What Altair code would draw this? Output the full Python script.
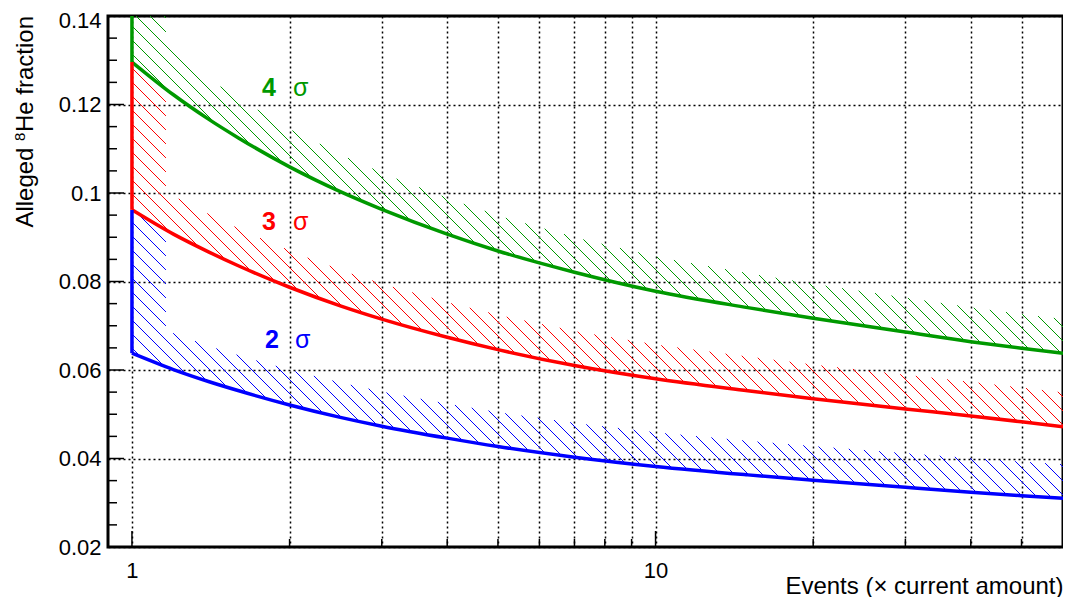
import numpy as np
import pandas as pd
import altair as alt

# ---------------- data ----------------
events = [1, 1.2, 1.4, 1.6, 2, 2.5, 3, 4, 5, 7, 10, 15, 20, 30, 40, 50, 60]
sigma2 = [0.0638, 0.0601, 0.0574, 0.0553, 0.0521, 0.0493, 0.0473, 0.0446, 0.0427,
          0.0403, 0.0382, 0.0363, 0.0351, 0.0335, 0.0324, 0.0316, 0.0310]
sigma3 = [0.0962, 0.0907, 0.0867, 0.0835, 0.0787, 0.0745, 0.0715, 0.0674, 0.0646,
          0.0610, 0.0580, 0.0553, 0.0535, 0.0512, 0.0496, 0.0483, 0.0472]
sigma4 = [0.1296, 0.1222, 0.1167, 0.1124, 0.1059, 0.1003, 0.0963, 0.0907, 0.0869,
          0.0821, 0.0778, 0.0741, 0.0717, 0.0686, 0.0664, 0.0649, 0.0638]
series_names = ["2σ", "3σ", "4σ"]
series_colors = ["#0000ff", "#ff0000", "#009900"]
# top of the vertical segment drawn at x = 1 for each curve
vertical_top = [0.0962, 0.1296, 0.14]

# labels
label_num = ["2", "3", "4"]
label_num_x = [1.795, 1.772, 1.772]
label_sig_x = [2.049, 2.031, 2.031]
label_y = [0.0650, 0.0916, 0.1219]

# axes
x_grid = [1, 2, 3, 4, 5, 6, 7, 8, 9, 10, 20, 30, 40, 50]
x_major_ticks = [1, 10]
x_minor_ticks = [2, 3, 4, 5, 6, 7, 8, 9, 20, 30, 40, 50]
y_major = [0.02, 0.04, 0.06, 0.08, 0.1, 0.12, 0.14]
y_minor = [0.025, 0.03, 0.035, 0.045, 0.05, 0.055, 0.065, 0.07, 0.075,
           0.085, 0.09, 0.095, 0.105, 0.11, 0.115, 0.125, 0.13, 0.135]
X_TITLE = "Events (× current amount)"
Y_TITLE_PARTS = ["Alleged", "8", "He fraction"]

XMIN, XMAX = 0.9, 60
YMIN, YMAX = 0.02, 0.14
W, H = 955, 531
FONT = "Liberation Sans"

# ---------------- hatch geometry (exclusion band) ----------------
LX0, LXR = np.log10(XMIN), np.log10(XMAX) - np.log10(XMIN)


def to_px(x):
    return W * (np.log10(x) - LX0) / LXR


def to_py(y):
    return H * (YMAX - y) / (YMAX - YMIN)


def from_px(p):
    return 10 ** (LX0 + p / W * LXR)


def from_py(p):
    return YMAX - p / H * (YMAX - YMIN)


BAND = 34.0
SPACING = 14.0


def band_polygon(xs, ys, top):
    X = to_px(np.array(xs, float))
    Y = to_py(np.array(ys, float))
    Xd = np.append(np.arange(X[0], X[-1], 2.0), X[-1])
    Yd = np.interp(Xd, X, Y)
    s = np.gradient(Yd, Xd)
    Yo = Yd - BAND * np.sqrt(1 + s ** 2)
    Yt = to_py(top)
    xr = X[0] + BAND
    m = Xd >= xr
    poly = [(X[0], Yt), (X[0], Yd[0])]
    poly += list(zip(Xd, Yd))
    poly += list(zip(Xd[m][::-1], Yo[m][::-1]))
    poly += [(xr, float(np.interp(xr, Xd, Yo))), (xr, Yt)]
    return np.array(poly)


def hatch_segments(poly):
    P = poly
    P2 = np.roll(P, -1, axis=0)
    d = P[:, 1] - P[:, 0]
    segs = []
    cs = np.arange(np.floor(d.min() / SPACING) * SPACING, d.max() + SPACING, SPACING)
    for c in cs:
        f1 = P[:, 1] - P[:, 0] - c
        f2 = P2[:, 1] - P2[:, 0] - c
        idx = np.where((f1 >= 0) != (f2 >= 0))[0]
        if len(idx) < 2:
            continue
        t = f1[idx] / (f1[idx] - f2[idx])
        pts = P[idx] + t[:, None] * (P2[idx] - P[idx])
        pts = pts[np.argsort(pts[:, 0])]
        for k in range(0, len(pts) - 1, 2):
            segs.append((pts[k], pts[k + 1]))
    return segs


hatch_rows = []
curve_rows = []
vert_rows = []
for name, vals, top in zip(series_names, [sigma2, sigma3, sigma4], vertical_top):
    for a, b in hatch_segments(band_polygon(events, vals, top)):
        hatch_rows.append({"series": name,
                           "x": from_px(a[0]), "y": from_py(a[1]),
                           "x2": from_px(b[0]), "y2": from_py(b[1])})
    for e, v in zip(events, vals):
        curve_rows.append({"series": name, "x": e, "y": v})
    vert_rows.append({"series": name, "x": events[0], "y": vals[0], "y2": top})

hatch_df = pd.DataFrame(hatch_rows)
curve_df = pd.DataFrame(curve_rows)
vert_df = pd.DataFrame(vert_rows)
label_df = pd.DataFrame({"series": series_names, "num": label_num, "nx": label_num_x,
                         "sx": label_sig_x, "y": label_y, "sig": ["σ"] * 3})

# ---------------- chart ----------------
xs = alt.Scale(type="log", domain=[XMIN, XMAX], nice=False)
ys = alt.Scale(domain=[YMIN, YMAX], nice=False, zero=False)
cs = alt.Scale(domain=series_names, range=series_colors)

x_axis = alt.Axis(values=x_grid, grid=True, gridDash=[2, 3], gridColor="black", gridWidth=1.5,
                  gridOpacity=1, ticks=False, domain=False,
                  labelExpr="datum.value == 1 || datum.value == 10 ? datum.label : ''",
                  format="~g", labelFont=FONT, labelFontSize=22, labelColor="black",
                  labelPadding=13, labelFlush=False, labelOverlap=False,
                  title=X_TITLE, titleFont=FONT, titleFontSize=24,
                  titleFontWeight="normal", titleColor="black", titleX=W, titleY=46,
                  titleAlign="right", titleBaseline="alphabetic", titleAnchor="end")
y_axis = alt.Axis(values=y_major, grid=True, gridDash=[2, 3], gridColor="black", gridWidth=1.5,
                  gridOpacity=1, ticks=False, domain=False, format="~g",
                  labelFont=FONT, labelFontSize=22, labelColor="black", labelPadding=7,
                  labelOffset={"condition": {"test": "datum.value >= 0.139", "value": 4.5},
                               "value": 0},
                  labelFlush=False, labelOverlap=False, title=None)


def X(field):
    return alt.X(field, scale=xs, axis=x_axis, title=X_TITLE)


def Y(field):
    return alt.Y(field, scale=ys, axis=y_axis, title=None)


color = alt.Color("series:N", scale=cs, legend=None)

hatch = alt.Chart(hatch_df).mark_rule(strokeWidth=1, clip=True).encode(
    x=X("x:Q"), y=Y("y:Q"), x2="x2:Q", y2="y2:Q", color=color)

verts = alt.Chart(vert_df).mark_rule(strokeWidth=3.5, clip=True).encode(
    x=X("x:Q"), y=Y("y:Q"), y2="y2:Q", color=color)

curves = alt.Chart(curve_df).mark_line(strokeWidth=3.5, interpolate="monotone", clip=True).encode(
    x=X("x:Q"), y=Y("y:Q"), color=color)

nums = alt.Chart(label_df).mark_text(font=FONT, fontSize=25, fontWeight="bold",
                                     align="left", baseline="alphabetic").encode(
    x=X("nx:Q"), y=Y("y:Q"), text="num:N", color=color)
sigs = alt.Chart(label_df).mark_text(font=FONT, fontSize=25, align="left",
                                     baseline="alphabetic").encode(
    x=X("sx:Q"), y=Y("y:Q"), text="sig:N", color=color)

ytm = pd.DataFrame({"v": y_major})
ytn = pd.DataFrame({"v": y_minor})
xtm = pd.DataFrame({"v": x_major_ticks})
xtn = pd.DataFrame({"v": x_minor_ticks})
ytick_major = alt.Chart(ytm).mark_rule(color="black", strokeWidth=1.5).encode(
    y=Y("v:Q"), x=alt.value(0), x2=alt.value(16))
ytick_minor = alt.Chart(ytn).mark_rule(color="black", strokeWidth=1.5).encode(
    y=Y("v:Q"), x=alt.value(0), x2=alt.value(9))
xtick_major = alt.Chart(xtm).mark_rule(color="black", strokeWidth=1.5).encode(
    x=X("v:Q"), y=alt.value(H), y2=alt.value(H - 16))
xtick_minor = alt.Chart(xtn).mark_rule(color="black", strokeWidth=1.5).encode(
    x=X("v:Q"), y=alt.value(H), y2=alt.value(H - 8))

# y-axis title, rotated, built from parts so that the "8" is a real superscript
ttl = pd.DataFrame({"t": Y_TITLE_PARTS})
TS = 24
len_tail = 0.4835 * TS * 10          # "He fraction"
len_sup = 0.556 * 15                 # superscript "8"
len_space = 0.278 * TS
title_tail = alt.Chart(ttl.iloc[[2]]).mark_text(
    font=FONT, fontSize=TS, angle=270, align="right", baseline="alphabetic", color="black"
).encode(text="t:N", x=alt.value(-75), y=alt.value(0))
title_sup = alt.Chart(ttl.iloc[[1]]).mark_text(
    font=FONT, fontSize=15, angle=270, align="right", baseline="alphabetic", color="black"
).encode(text="t:N", x=alt.value(-83), y=alt.value(len_tail + 0.5))
title_head = alt.Chart(ttl.iloc[[0]]).mark_text(
    font=FONT, fontSize=TS, angle=270, align="right", baseline="alphabetic", color="black"
).encode(text="t:N", x=alt.value(-75), y=alt.value(len_tail + 0.5 + len_sup + len_space))

chart = alt.layer(
    hatch, curves, verts, nums, sigs,
    ytick_major, ytick_minor, xtick_major, xtick_minor,
    title_tail, title_sup, title_head,
).properties(
    width=W, height=H,
    autosize=alt.AutoSizeParams(type="none"),
    padding={"left": 100, "top": 8, "right": 0, "bottom": 50},
    background="white",
).configure_view(stroke="black", strokeWidth=3)

chart.save("out.html", embed_options={"renderer": "svg", "actions": False})
